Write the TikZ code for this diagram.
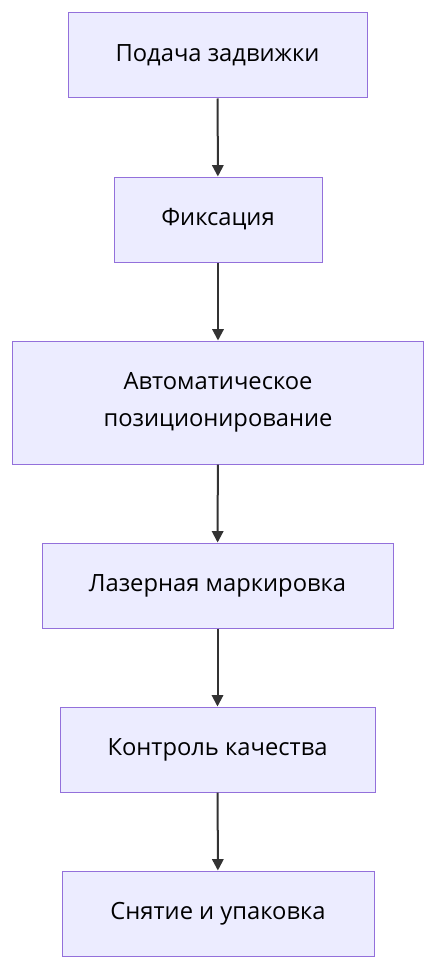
\documentclass[tikz,border=0pt]{standalone}
\usepackage{fontspec}
\setmainfont{Open Sans}
\usetikzlibrary{arrows.meta}

\definecolor{boxfill}{HTML}{ECECFF}
\definecolor{boxline}{HTML}{9370DB}
\definecolor{arrowline}{HTML}{333333}

\tikzset{
    stepbox/.style={draw=boxline, fill=boxfill, line width=0.75pt, align=center,
        inner sep=0pt, font=\fontsize{17.8pt}{27.5pt}\selectfont, text=black},
    flow/.style={draw=arrowline, line width=1.5pt,
        -{Triangle[length=8.5pt,width=8.5pt]}}
}

\begin{document}
\begin{tikzpicture}[x=0.75pt,y=0.75pt,yscale=-1,xscale=1]
    \useasboundingbox (0,0) rectangle (436,970);

    % Nodes
    \node [stepbox, minimum width=299*0.75pt, minimum height=85*0.75pt] (feed) at (217.5,55.5) {Подача задвижки};
    \node [stepbox, minimum width=208*0.75pt, minimum height=85*0.75pt] (fix) at (218,219.5) {Фиксация};
    \node [stepbox, minimum width=411*0.75pt, minimum height=123*0.75pt] (pos) at (218,402.5) {Автоматическое\\позиционирование};
    \node [stepbox, minimum width=351*0.75pt, minimum height=85*0.75pt] (laser) at (217.5,585.5) {Лазерная маркировка};
    \node [stepbox, minimum width=315*0.75pt, minimum height=85*0.75pt] (check) at (217.5,749.5) {Контроль качества};
    \node [stepbox, minimum width=312*0.75pt, minimum height=85*0.75pt] (pack) at (218,913.5) {Снятие и упаковка};

    % Connectors
    \draw [flow] (feed) -- (fix);
    \draw [flow] (fix) -- (pos);
    \draw [flow] (pos) -- (laser);
    \draw [flow] (laser) -- (check);
    \draw [flow] (check) -- (pack);

\end{tikzpicture}
\end{document}
